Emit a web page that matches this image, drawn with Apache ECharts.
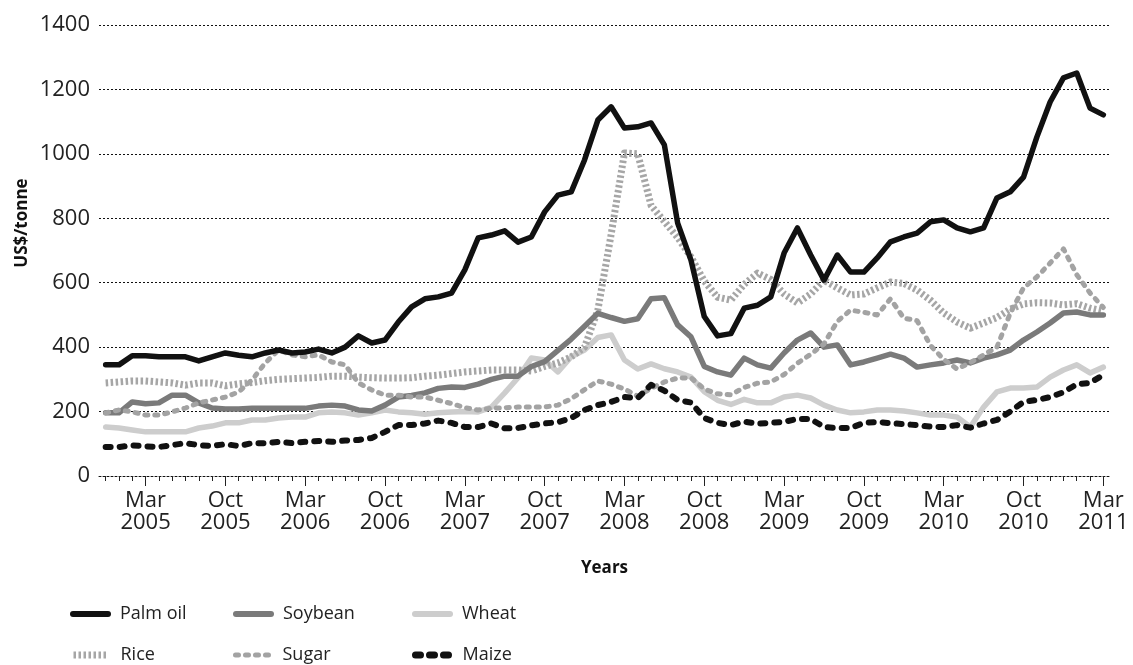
<!DOCTYPE html>
<html>
<head>
<meta charset="utf-8">
<script src="https://cdn.jsdelivr.net/npm/echarts@6/dist/echarts.min.js"></script>
<style>
html,body{margin:0;padding:0;background:#fff;}
#chart{width:1133px;height:665px;}
</style>
</head>
<body>
<div id="chart"></div>
<script>
// Monthly prices, Dec 2004 – Mar 2011 (US$/tonne)
const startYear = 2004, startMonth = 11; // Dec 2004
const tickLabels = ['Mar\n2005','Oct\n2005','Mar\n2006','Oct\n2006','Mar\n2007','Oct\n2007','Mar\n2008','Oct\n2008','Mar\n2009','Oct\n2009','Mar\n2010','Oct\n2010','Mar\n2011'];
const firstLabelIndex = 3, labelStep = 6;

const palmOil = [345,345,373,373,370,370,370,357,370,382,375,370,382,391,382,385,394,382,400,435,413,422,478,525,550,556,568,640,739,748,761,726,742,820,872,882,981,1105,1146,1080,1084,1096,1028,785,670,495,435,442,521,530,556,692,770,686,608,686,633,633,677,727,742,754,789,795,770,758,770,863,882,928,1052,1161,1236,1251,1142,1121];
const soybean = [196,196,230,224,227,251,251,227,211,208,208,210,210,210,210,210,217,220,217,205,202,220,245,250,258,272,276,275,285,300,310,310,340,355,390,425,465,505,492,480,488,550,553,469,432,340,323,313,366,345,335,382,422,444,400,407,345,354,366,378,366,338,345,351,360,351,366,376,391,422,447,475,506,509,500,500];
const wheat = [152,149,143,137,137,137,137,149,155,165,165,174,174,180,183,183,196,199,196,189,196,205,199,196,192,196,199,200,199,214,258,305,366,360,323,370,391,430,438,360,332,348,333,323,307,262,235,222,238,227,227,245,251,242,220,205,196,199,205,205,202,196,189,189,183,152,214,261,273,273,276,307,329,345,320,338];
const rice = [289,292,295,295,292,289,282,289,289,280,286,290,296,300,302,304,306,310,310,307,305,304,304,305,310,313,318,323,326,329,329,329,326,340,351,370,400,515,750,1003,1000,840,790,740,680,605,555,546,595,630,610,565,537,565,608,584,562,565,584,602,598,577,546,506,478,459,475,492,518,534,538,537,531,535,521,512];
const sugar = [196,205,199,189,189,199,211,227,236,245,261,298,351,391,376,370,376,354,345,289,267,251,251,245,245,235,225,212,205,210,212,214,214,214,220,240,268,295,285,270,248,272,292,304,305,270,255,252,275,288,292,315,350,378,410,480,515,508,500,550,490,482,405,362,332,352,376,400,505,584,618,661,705,625,568,523];
const maize = [90,90,95,92,90,96,102,96,93,99,93,102,102,106,102,106,109,106,110,112,118,137,158,158,163,172,165,152,152,163,148,149,157,163,167,180,205,220,230,245,242,283,265,236,228,180,165,158,169,162,165,168,177,177,152,149,149,165,168,164,161,158,153,152,158,150,163,174,200,230,236,245,260,285,289,314];

const monthNames = ['Jan','Feb','Mar','Apr','May','Jun','Jul','Aug','Sep','Oct','Nov','Dec'];
const categories = palmOil.map(function(_, i){
  const m = startMonth + i;
  return monthNames[m % 12] + ' ' + (startYear + Math.floor(m / 12));
});

const FONT = "'Open Sans', 'Noto Sans', sans-serif";
const isMajor = function(i){ return i >= firstLabelIndex && (i - firstLabelIndex) % labelStep === 0; };

const chart = echarts.init(document.getElementById('chart'), null, {renderer:'canvas'});

function ser(name, data, color, width, type, cap, z){
  return {
    name: name, type: 'line', data: data, symbol: 'none', showSymbol: false,
    smooth: false, z: z, animation: false,
    lineStyle: {color: color, width: width, type: type, cap: cap || 'butt', join: 'round'},
    itemStyle: {color: color}
  };
}

function leg(name, left, top, width, cap){
  return {
    data: [name], left: left, top: top, padding: 0,
    itemWidth: 35, itemHeight: 18,
    itemStyle: {color: 'transparent', borderColor: 'transparent', borderWidth: 0, opacity: 0},
    lineStyle: {width: width, cap: cap},
    textStyle: {fontFamily: FONT, fontSize: 18, color: '#222', padding: [0,0,0,7]},
    selectedMode: false
  };
}

chart.setOption({
  animation: false,
  backgroundColor: '#fff',
  grid: {left: 99, right: 23, top: 25, bottom: 189, containLabel: false},
  legend: [
    leg('Palm oil', 70, 605, 6, 'round'), leg('Soybean', 233, 605, 6, 'round'), leg('Wheat', 412, 605, 6, 'round'),
    leg('Rice', 70, 646, 7, 'butt'), leg('Sugar', 233, 646, 5, 'round'), leg('Maize', 412, 646, 7, 'round')
  ],
  graphic: [{
    type: 'text', x: 22, y: 223, rotation: Math.PI / 2,
    style: {text: 'US$/tonne', font: 'bold 17px ' + FONT, fill: '#111', align: 'center', verticalAlign: 'middle'}
  }],
  xAxis: [{
    type: 'category', data: categories, boundaryGap: true,
    axisLine: {show: true, lineStyle: {color: '#111', width: 1, type: [2,2]}},
    axisTick: {show: true, alignWithLabel: true, interval: 0, length: 5, lineStyle: {color: '#222', width: 1}},
    axisLabel: {show: false},
    splitLine: {show: false},
    name: 'Years', nameLocation: 'middle', nameGap: 84,
    nameTextStyle: {fontFamily: FONT, fontSize: 17, fontWeight: 'bold', color: '#111'}
  }, {
    type: 'category', data: categories, boundaryGap: true, position: 'bottom',
    axisLine: {show: false},
    axisTick: {show: true, alignWithLabel: true, length: 10, interval: function(i){ return isMajor(i); }, lineStyle: {color: '#222', width: 1}},
    axisLabel: {
      show: true, interval: function(i){ return isMajor(i); }, margin: 14,
      fontFamily: FONT, fontSize: 22, lineHeight: 22, color: '#222',
      formatter: function(v, i){ return isMajor(i) ? tickLabels[(i - firstLabelIndex) / labelStep] : ''; }
    },
    splitLine: {show: false}
  }],
  yAxis: {
    type: 'value', min: 0, max: 1400, interval: 200,
    axisLine: {show: false}, axisTick: {show: false},
    axisLabel: {fontFamily: FONT, fontSize: 22, color: '#222', margin: 9, formatter: function(v){ return String(v); }},
    splitLine: {show: true, lineStyle: {color: '#111', width: 1, type: [2,2]}}
  },
  series: [
    ser('Palm oil', palmOil, '#111111', 5.5, 'solid', 'round', 10),
    ser('Soybean', soybean, '#7a7a7a', 5.5, 'solid', 'round', 6),
    ser('Wheat', wheat, '#cdcdcd', 5.5, 'solid', 'round', 4),
    ser('Rice', rice, '#a6a6a6', 7, [2.5, 2.5], 'butt', 5),
    ser('Sugar', sugar, '#a3a3a3', 5, [3, 7], 'round', 7),
    ser('Maize', maize, '#111111', 6, [5, 9], 'round', 8)
  ]
});
</script>
</body>
</html>
